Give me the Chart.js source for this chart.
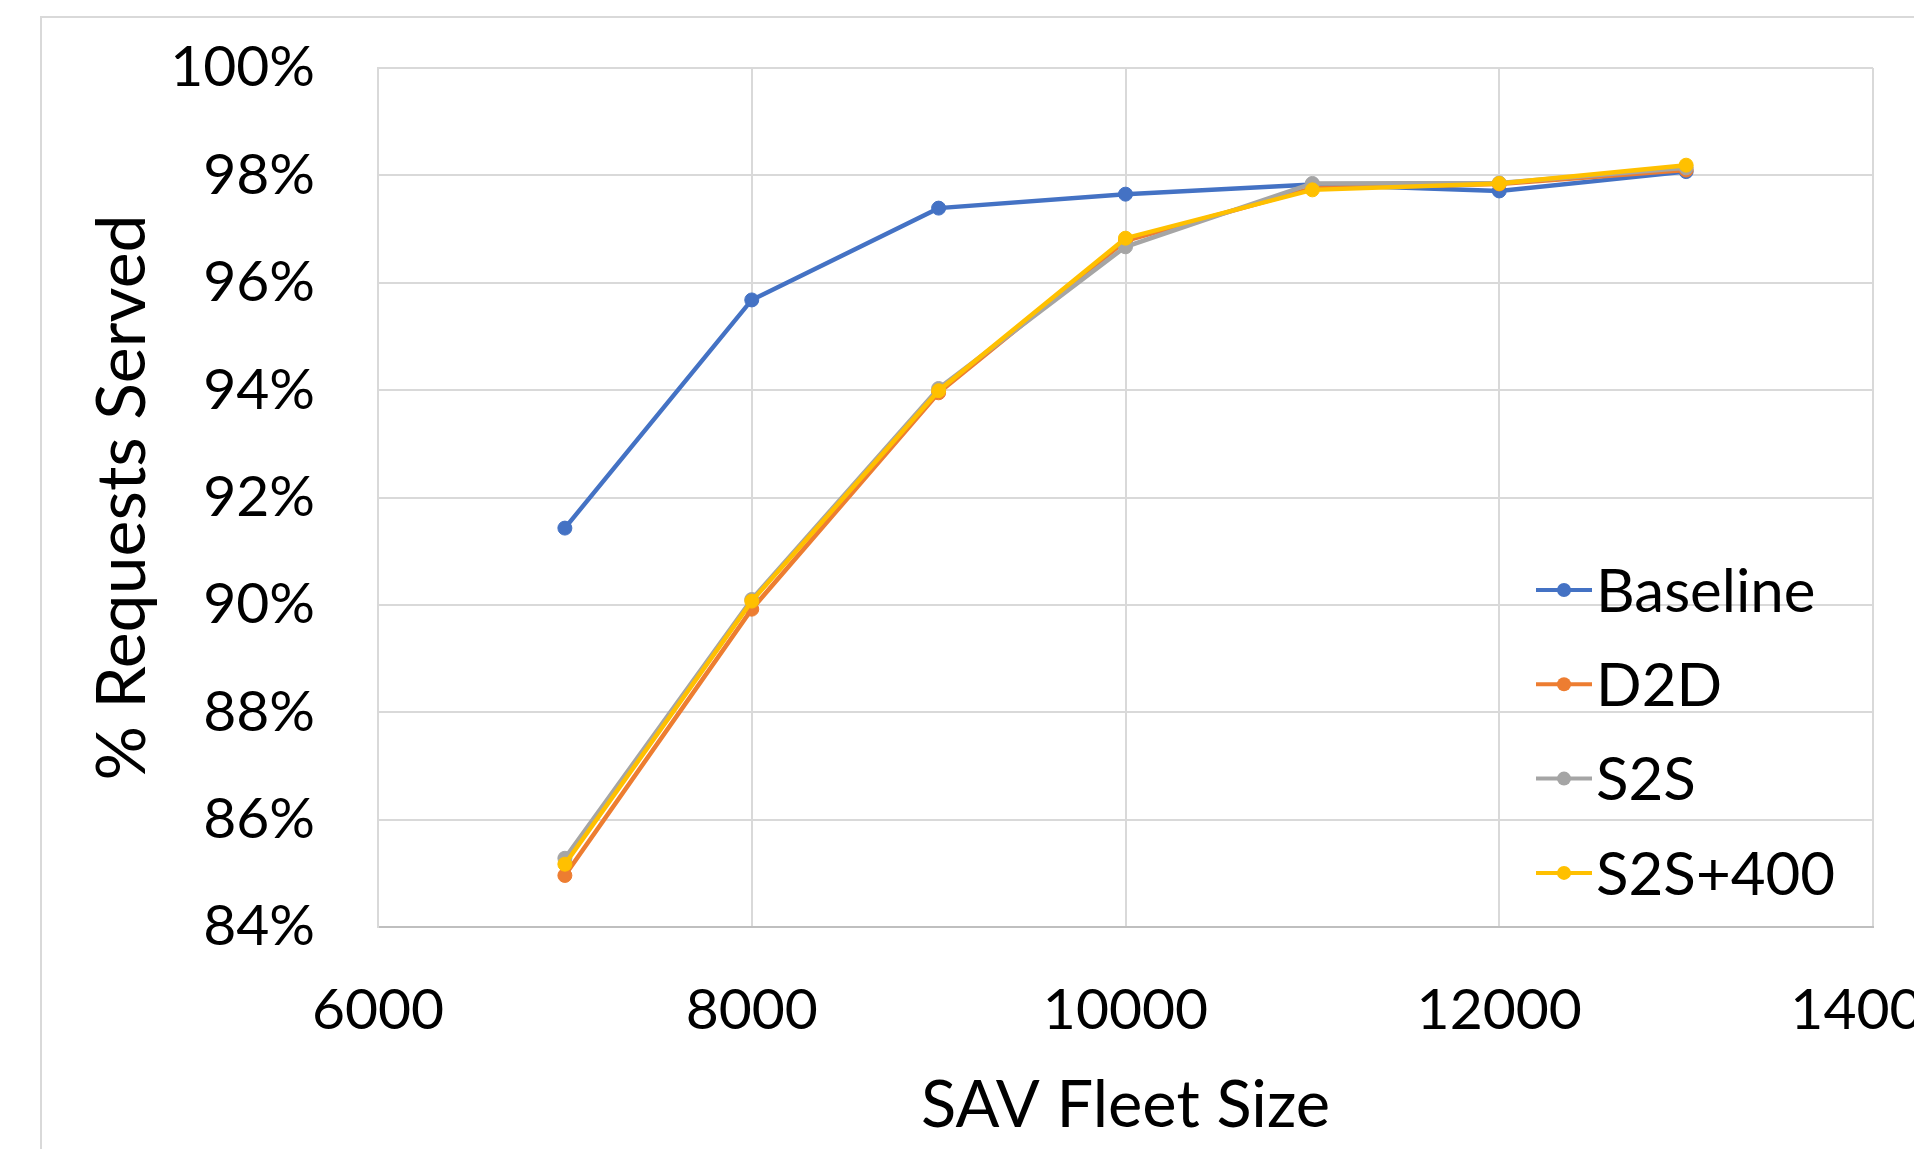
<!DOCTYPE html>
<html>
<head>
<meta charset="utf-8">
<script src="https://cdn.jsdelivr.net/npm/chart.js@4.4.1/dist/chart.umd.min.js"></script>
<style>
  html, body { margin: 0; padding: 0; overflow: hidden; background: #fff; }
  #wrap { position: relative; width: 1914px; height: 1149px; overflow: hidden; }
  #frame {
    position: absolute; left: 40px; top: 16px; right: 0; bottom: 0;
    border-left: 2px solid #d9d9d9; border-top: 2px solid #d9d9d9;
  }
  #chart { position: absolute; left: 0; top: 0; }
</style>
</head>
<body>
<div id="wrap">
  <div id="frame"></div>
  <canvas id="chart" width="1914" height="1149"></canvas>
</div>
<script>
const fleetSizes = [7000, 8000, 9000, 10000, 11000, 12000, 13000];
const baseline = [91.43, 95.68, 97.39, 97.65, 97.83, 97.71, 98.07];
const d2d = [84.96, 89.92, 93.95, 96.78, 97.76, 97.84, 98.10];
const s2s = [85.28, 90.10, 94.03, 96.67, 97.85, 97.86, 98.14];
const s2s400 = [85.17, 90.07, 93.99, 96.83, 97.73, 97.85, 98.19];

const seriesNames = ['Baseline', 'D2D', 'S2S', 'S2S+400'];
const seriesValues = [baseline, d2d, s2s, s2s400];
const colors = ['#4472C4', '#ED7D31', '#A5A5A5', '#FFC000'];

const fontFamily = "Lato, 'Open Sans', sans-serif";

const datasets = seriesNames.map((name, i) => ({
  label: name,
  data: fleetSizes.map((x, j) => ({ x: x, y: seriesValues[i][j] })),
  borderColor: colors[i],
  backgroundColor: colors[i],
  pointBackgroundColor: colors[i],
  pointBorderColor: colors[i],
  borderWidth: 4.5,
  pointRadius: 7,
  pointBorderWidth: 1,
  tension: 0,
  order: seriesNames.length - i
}));

// legend drawn inside the plot, bottom right, like the original
const insideLegend = {
  id: 'insideLegend',
  afterDatasetsDraw(chart) {
    const ctx = chart.ctx;
    const area = chart.chartArea;
    const size = 60;
    ctx.save();
    ctx.font = size + 'px ' + fontFamily;
    ctx.textAlign = 'left';
    ctx.textBaseline = 'alphabetic';
    chart.data.datasets.forEach((ds, i) => {
      const y = area.bottom - 337 + i * 94.3;
      const x0 = area.right - 337;
      ctx.strokeStyle = ds.borderColor;
      ctx.lineWidth = 4;
      ctx.beginPath();
      ctx.moveTo(x0, y);
      ctx.lineTo(x0 + 56, y);
      ctx.stroke();
      ctx.fillStyle = ds.borderColor;
      ctx.beginPath();
      ctx.arc(x0 + 28, y, 7, 0, Math.PI * 2);
      ctx.fill();
      ctx.fillStyle = '#000';
      ctx.fillText(ds.label, x0 + 60, y + size * 0.36);
    });
    ctx.restore();
  }
};

new Chart(document.getElementById('chart').getContext('2d'), {
  type: 'line',
  data: { datasets: datasets },
  options: {
    responsive: false,
    maintainAspectRatio: false,
    devicePixelRatio: 1,
    animation: false,
    layout: { padding: { left: 0, top: 68, right: 41, bottom: 0 } },
    plugins: {
      legend: { display: false },
      tooltip: { enabled: false }
    },
    scales: {
      x: {
        type: 'linear',
        min: 6000,
        max: 14000,
        ticks: {
          stepSize: 2000,
          color: '#000',
          padding: 49,
          font: { family: fontFamily, size: 57 },
          callback: v => String(v)
        },
        grid: { color: '#d9d9d9', lineWidth: 2, drawTicks: false },
        border: { color: '#bfbfbf', width: 2 },
        title: {
          display: true,
          text: 'SAV Fleet Size',
          color: '#000',
          font: { family: fontFamily, size: 65 },
          padding: { top: 0, bottom: 4 }
        },
        // last tick label runs off the right edge, as in the original crop
        afterFit(scale) { scale.height = 222; scale.paddingRight = 0; scale.paddingLeft = 0; }
      },
      y: {
        min: 84,
        max: 100,
        ticks: {
          stepSize: 2,
          color: '#000',
          padding: 63,
          font: { family: fontFamily, size: 57 },
          callback: v => v + '%'
        },
        grid: { color: '#d9d9d9', lineWidth: 2, drawTicks: false },
        border: { color: '#d9d9d9', width: 2 },
        title: {
          display: true,
          text: '% Requests Served',
          color: '#000',
          font: { family: fontFamily, size: 68 },
          padding: { top: 82, bottom: 0 }
        },
        afterFit(scale) { scale.width = 378; scale.paddingTop = 0; scale.paddingBottom = 0; }
      }
    }
  },
  plugins: [insideLegend]
});
</script>
</body>
</html>
